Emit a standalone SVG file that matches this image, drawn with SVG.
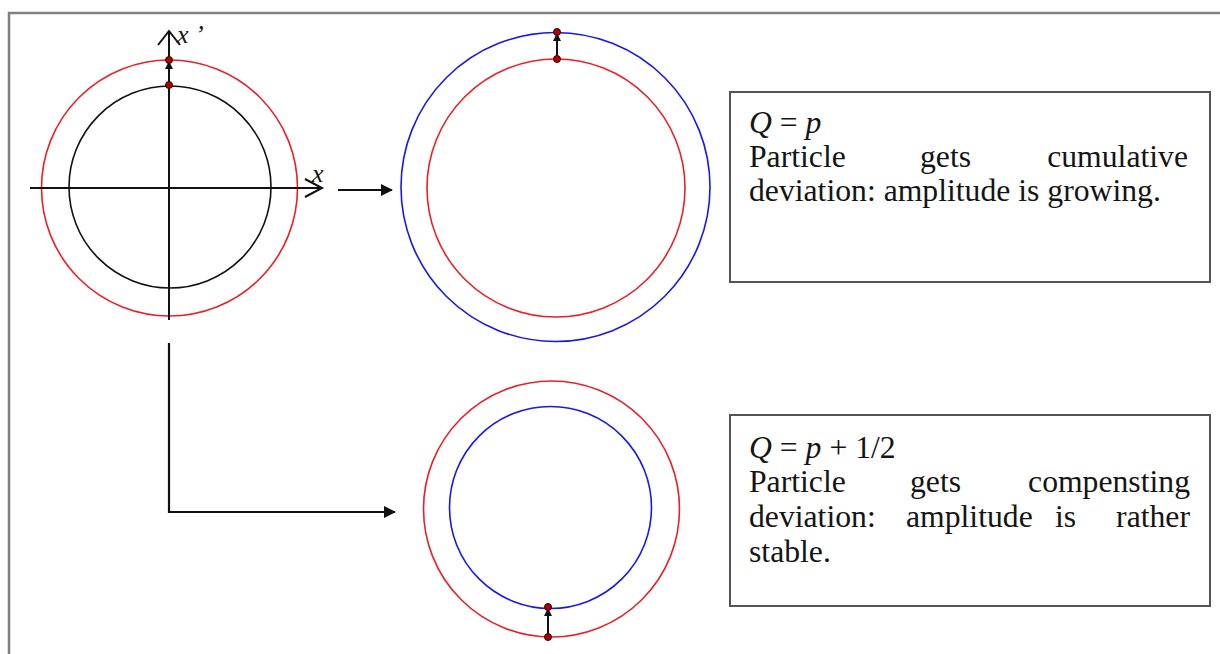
<svg xmlns="http://www.w3.org/2000/svg" width="1220" height="654" viewBox="0 0 1220 654">
<defs>
<style>
.red{fill:none;stroke:#e8202a;stroke-width:1.6}
.blue{fill:none;stroke:#1818e8;stroke-width:1.6}
.blk{fill:none;stroke:#111;stroke-width:1.6}
.ax{fill:none;stroke:#111;stroke-width:2}
.dot{fill:#b00000;stroke:#3a0000;stroke-width:1}
.box{fill:#fff;stroke:#555;stroke-width:2}
text{font-family:'Liberation Serif','Times New Roman',Tinos,serif;font-size:31.7px;fill:#151515}
.i{font-style:italic}
.conn{fill:none;stroke:#111;stroke-width:2.2}
</style>
<marker id="ah" viewBox="0 0 12 12" refX="11" refY="6" markerWidth="12" markerHeight="12" markerUnits="userSpaceOnUse" orient="auto">
<path d="M0,0 L12,6 L0,12 Z" fill="#111"/>
</marker>
<marker id="sah" viewBox="0 0 8 8" refX="7" refY="4" markerWidth="8" markerHeight="8" markerUnits="userSpaceOnUse" orient="auto">
<path d="M0,0 L8,4 L0,8 Z" fill="#111"/>
</marker>
</defs>
<rect x="0" y="0" width="1220" height="654" fill="#fff"/>
<path d="M9,660 L9,13 L1225,13" fill="none" stroke="#808080" stroke-width="2.5"/>

<g id="phase-initial">
<circle class="red" cx="169.5" cy="188" r="128"/>
<circle class="blk" cx="170" cy="187" r="101"/>
<line class="ax" x1="30" y1="188" x2="322" y2="188"/>
<polyline class="ax" points="305,179 322,188 305,197"/>
<line class="ax" x1="169" y1="320" x2="169" y2="31"/>
<polyline class="ax" points="158,45 169,31 180,45"/>
<text class="i" x="177" y="43" style="font-size:26px">x ’</text>
<text class="i" x="312" y="182" style="font-size:26px">x</text>
<line class="ax" x1="169" y1="85" x2="169" y2="62" marker-end="url(#sah)"/>
<circle class="dot" cx="169" cy="85" r="3.5"/>
<circle class="dot" cx="169" cy="60" r="3.5"/>
</g>

<g id="phase-cumulative">
<circle class="blue" cx="555.5" cy="187" r="154.5"/>
<circle class="red" cx="556" cy="188" r="129"/>
<line class="ax" x1="557" y1="59" x2="557" y2="34" marker-end="url(#sah)"/>
<circle class="dot" cx="557" cy="59" r="3.5"/>
<circle class="dot" cx="557" cy="32" r="3.5"/>
</g>

<g id="phase-compensating">
<circle class="red" cx="551.5" cy="509" r="128"/>
<circle class="blue" cx="550.5" cy="507.5" r="101"/>
<line class="ax" x1="548" y1="637" x2="548" y2="609" marker-end="url(#sah)"/>
<circle class="dot" cx="548" cy="637" r="3.5"/>
<circle class="dot" cx="548" cy="607" r="3.5"/>
</g>

<g id="connectors">
<line class="conn" x1="338" y1="190" x2="392" y2="190" marker-end="url(#ah)"/>
<polyline class="conn" points="169,343 169,512 395,512" marker-end="url(#ah)"/>
</g>

<g id="box-q-p">
<rect class="box" x="730" y="92" width="480" height="190"/>
<text x="749" y="133"><tspan class="i">Q</tspan> = <tspan class="i">p</tspan></text>
<text x="749" y="167">Particle</text>
<text x="920" y="167">gets</text>
<text x="1188" y="167" text-anchor="end">cumulative</text>
<text x="749" y="201">deviation: amplitude is growing.</text>
</g>

<g id="box-q-p-half">
<rect class="box" x="730" y="415" width="480" height="191"/>
<text x="749" y="458"><tspan class="i">Q</tspan> = <tspan class="i">p</tspan> + 1/2</text>
<text x="749" y="492">Particle</text>
<text x="910" y="492">gets</text>
<text x="1190" y="492" text-anchor="end">compensting</text>
<text x="749" y="527">deviation:</text>
<text x="906" y="527">amplitude</text>
<text x="1055" y="527">is</text>
<text x="1190" y="527" text-anchor="end">rather</text>
<text x="749" y="562">stable.</text>
</g>
</svg>
